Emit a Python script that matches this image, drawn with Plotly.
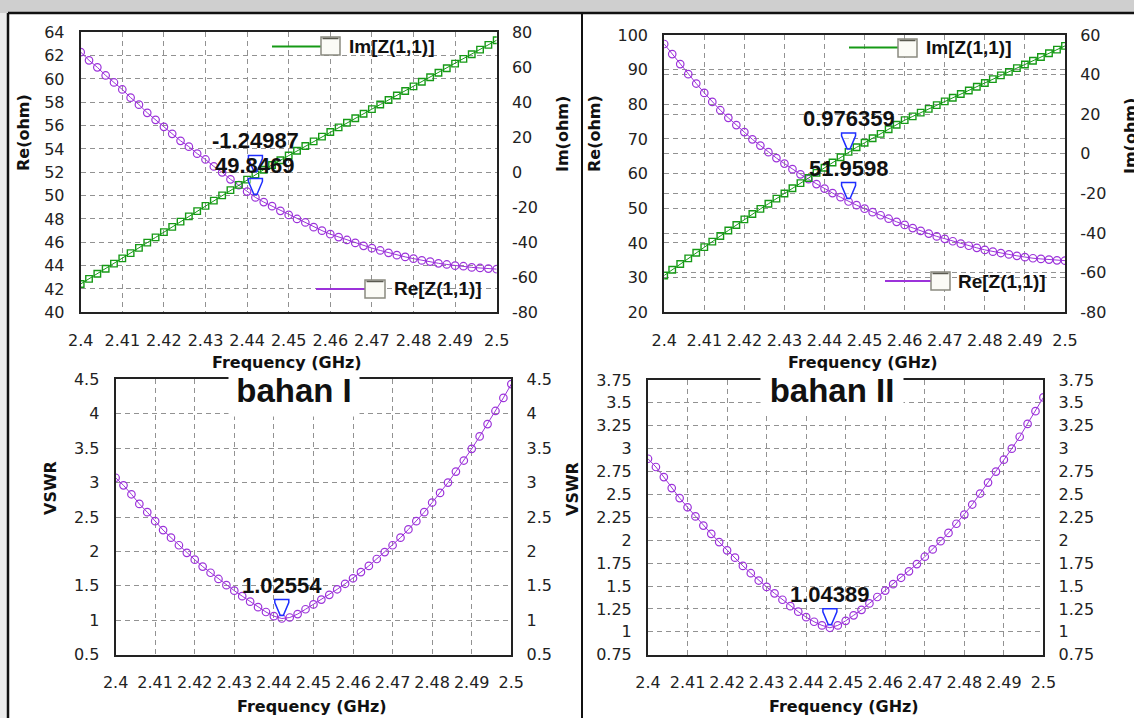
import plotly.graph_objects as go

# ---------------- data ----------------
freq = [2.400, 2.402, 2.404, 2.406, 2.408, 2.410, 2.412, 2.414, 2.416, 2.418,
        2.420, 2.422, 2.424, 2.426, 2.428, 2.430, 2.432, 2.434, 2.436, 2.438,
        2.440, 2.442, 2.444, 2.446, 2.448, 2.450, 2.452, 2.454, 2.456, 2.458,
        2.460, 2.462, 2.464, 2.466, 2.468, 2.470, 2.472, 2.474, 2.476, 2.478,
        2.480, 2.482, 2.484, 2.486, 2.488, 2.490, 2.492, 2.494, 2.496, 2.498,
        2.500]

# bahan I
re_1 = [62.3, 61.6, 61.0, 60.3, 59.7, 59.1, 58.4, 57.8, 57.1, 56.5,
        55.9, 55.3, 54.7, 54.2, 53.6, 53.1, 52.5, 52.0, 51.4, 50.9,
        50.35, 49.8469, 49.45, 49.1, 48.7, 48.35, 48.0, 47.7, 47.3, 47.0,
        46.7, 46.45, 46.2, 45.95, 45.7, 45.5, 45.3, 45.1, 44.9, 44.75,
        44.6, 44.45, 44.35, 44.2, 44.1, 44.0, 43.95, 43.85, 43.8, 43.75,
        43.7]
im_1 = [-63.8, -60.9, -58.0, -55.1, -52.2, -49.2, -46.2, -43.2, -40.2, -37.2,
        -34.2, -31.2, -28.2, -25.2, -22.2, -19.2, -16.2, -13.2, -10.2, -7.2,
        -4.2, -1.24987, 1.5, 4.2, 6.9, 9.6, 12.3, 15.0, 17.7, 20.4,
        23.0, 25.7, 28.3, 30.9, 33.5, 36.1, 38.7, 41.3, 43.9, 46.5,
        49.1, 51.7, 54.3, 56.9, 59.5, 62.1, 64.8, 67.5, 70.1, 72.8,
        75.5]
vswr_1 = [3.07, 2.96, 2.83, 2.69, 2.57, 2.44, 2.31, 2.20, 2.09, 1.98,
          1.88, 1.78, 1.69, 1.60, 1.51, 1.43, 1.35, 1.27, 1.19, 1.12,
          1.06, 1.02554, 1.04, 1.09, 1.16, 1.23, 1.30, 1.37, 1.45, 1.53,
          1.61, 1.70, 1.79, 1.89, 1.99, 2.09, 2.20, 2.32, 2.44, 2.57,
          2.71, 2.85, 3.00, 3.16, 3.32, 3.49, 3.67, 3.85, 4.04, 4.23,
          4.43]

# bahan II
re_2 = [97.4, 94.5, 91.6, 88.7, 86.0, 83.3, 80.7, 78.3, 76.1, 74.0,
        72.0, 69.9, 68.1, 66.2, 64.5, 62.9, 61.3, 59.8, 58.4, 57.0,
        55.7, 54.4, 53.2, 51.9598, 50.9, 49.9, 48.9, 48.0, 47.0, 46.1,
        45.2, 44.3, 43.5, 42.7, 41.9, 41.2, 40.5, 39.8, 39.2, 38.6,
        38.0, 37.5, 37.1, 36.7, 36.3, 35.9, 35.6, 35.4, 35.2, 35.0,
        34.9]
im_2 = [-61.4, -58.5, -55.6, -52.8, -49.9, -47.1, -44.3, -41.5, -38.7, -35.9,
        -33.1, -30.4, -27.8, -25.2, -22.6, -20.0, -17.4, -14.8, -12.2, -9.6,
        -7.0, -4.4, -1.7, 0.976359, 3.3, 5.6, 7.9, 10.1, 12.4, 14.7,
        17.0, 18.9, 20.8, 22.7, 24.6, 26.5, 28.3, 30.2, 32.0, 33.9,
        35.8, 37.7, 39.6, 41.4, 43.3, 45.1, 47.0, 48.9, 50.8, 52.6,
        54.5]
vswr_2 = [2.89, 2.80, 2.69, 2.57, 2.46, 2.36, 2.26, 2.16, 2.07, 1.98,
          1.89, 1.81, 1.72, 1.64, 1.56, 1.49, 1.42, 1.35, 1.28, 1.22,
          1.16, 1.11, 1.07, 1.04389, 1.07, 1.12, 1.18, 1.24, 1.31, 1.38,
          1.45, 1.52, 1.59, 1.66, 1.74, 1.82, 1.90, 1.99, 2.08, 2.18,
          2.28, 2.39, 2.51, 2.63, 2.75, 2.88, 3.00, 3.13, 3.27, 3.41,
          3.56]

marker_idx_1 = 21
marker_idx_2 = 23
label_re_1, label_im_1, label_vswr_1 = "49.8469", "-1.24987", "1.02554"
label_re_2, label_im_2, label_vswr_2 = "51.9598", "0.976359", "1.04389"

x_ticks = [2.40, 2.41, 2.42, 2.43, 2.44, 2.45, 2.46, 2.47, 2.48, 2.49, 2.50]
x_ticktext = ["2.4", "2.41", "2.42", "2.43", "2.44", "2.45", "2.46", "2.47", "2.48", "2.49", "2.5"]
re1_ticks = [40, 42, 44, 46, 48, 50, 52, 54, 56, 58, 60, 62, 64]
im1_ticks = [-80, -60, -40, -20, 0, 20, 40, 60, 80]
re2_ticks = [20, 30, 40, 50, 60, 70, 80, 90, 100]
im2_ticks = [-80, -60, -40, -20, 0, 20, 40, 60]
vs1_ticks = [0.5, 1, 1.5, 2, 2.5, 3, 3.5, 4, 4.5]
vs1_text = ["0.5", "1", "1.5", "2", "2.5", "3", "3.5", "4", "4.5"]
vs2_ticks = [0.75, 1, 1.25, 1.5, 1.75, 2, 2.25, 2.5, 2.75, 3, 3.25, 3.5, 3.75]
vs2_text = ["0.75", "1", "1.25", "1.5", "1.75", "2", "2.25", "2.5", "2.75", "3", "3.25", "3.5", "3.75"]

# ---------------- style ----------------
W, H = 1134, 718
PURPLE = "#9C33DA"
GREEN = "#169A16"
BLUE = "#1E2EFF"
GRID = "#929292"
FONT = "Liberation Sans, Arial, sans-serif"
FONT_W = "DejaVu Sans, Verdana, sans-serif"


def px(x):
    return x / W


def py(y):
    return 1 - y / H


fig = go.Figure()

# traces
fig.add_trace(go.Scatter(x=freq, y=re_1, xaxis="x", yaxis="y", mode="lines+markers",
                         line=dict(color=PURPLE, width=1),
                         marker=dict(symbol="circle-open", size=7.5, color=PURPLE, line=dict(width=1.2))))
fig.add_trace(go.Scatter(x=freq, y=im_1, xaxis="x", yaxis="y2", mode="lines+markers",
                         line=dict(color=GREEN, width=1),
                         marker=dict(symbol="square-open", size=6.5, color=GREEN, line=dict(width=1.4))))
fig.add_trace(go.Scatter(x=freq, y=re_2, xaxis="x2", yaxis="y3", mode="lines+markers",
                         line=dict(color=PURPLE, width=1),
                         marker=dict(symbol="circle-open", size=7.5, color=PURPLE, line=dict(width=1.2))))
fig.add_trace(go.Scatter(x=freq, y=im_2, xaxis="x2", yaxis="y4", mode="lines+markers",
                         line=dict(color=GREEN, width=1),
                         marker=dict(symbol="square-open", size=6.5, color=GREEN, line=dict(width=1.4))))
fig.add_trace(go.Scatter(x=freq, y=vswr_1, xaxis="x3", yaxis="y5", mode="lines+markers",
                         line=dict(color=PURPLE, width=1),
                         marker=dict(symbol="circle-open", size=7.5, color=PURPLE, line=dict(width=1.2))))
fig.add_trace(go.Scatter(x=freq, y=vswr_2, xaxis="x4", yaxis="y7", mode="lines+markers",
                         line=dict(color=PURPLE, width=1),
                         marker=dict(symbol="circle-open", size=7.5, color=PURPLE, line=dict(width=1.2))))

tickfont = dict(family=FONT_W, size=16, color="#222222")


def xax(dom, anchor):
    return dict(domain=dom, anchor=anchor, range=[2.4, 2.5], tickmode="array",
                tickvals=x_ticks, ticktext=x_ticktext, tickangle=0, automargin=False,
                showline=True, mirror=True, linecolor="#222222", linewidth=2,
                showgrid=True, gridcolor=GRID, griddash="5px,4px", gridwidth=1,
                ticks="outside", ticklen=12, tickcolor="rgba(0,0,0,0)",
                tickfont=tickfont, zeroline=False)


def yax(dom, anchor, rng, tv, tt=None, grid=True):
    d = dict(domain=dom, anchor=anchor, range=rng, tickmode="array", tickvals=tv,
             ticktext=tt if tt else [str(v) for v in tv], automargin=False,
             showline=True, mirror=True, linecolor="#222222", linewidth=2,
             showgrid=grid, gridcolor=GRID, griddash="5px,4px", gridwidth=1,
             ticks="outside", ticklen=11, tickcolor="rgba(0,0,0,0)",
             tickfont=tickfont, zeroline=False)
    return d


def yax_r(over, anchor, rng, tv, tt=None, grid=False):
    return dict(overlaying=over, side="right", anchor=anchor, range=rng, tickmode="array",
                tickvals=tv, ticktext=tt if tt else [str(v) for v in tv], automargin=False,
                showline=False, showgrid=grid, gridcolor=GRID, griddash="5px,4px", gridwidth=1,
                ticks="outside", ticklen=11, tickcolor="rgba(0,0,0,0)",
                tickfont=tickfont, zeroline=False)


TL = ([px(80.7), px(496.7)], [py(312.3), py(32.3)])
TR = ([px(664.2), px(1065)], [py(312.3), py(35)])
BL = ([px(115.6), px(511.3)], [py(654.7), py(379.3)])
BR = ([px(648), px(1043.4)], [py(654.7), py(380)])

shapes = []
annotations = []

# background pieces
shapes.append(dict(type="rect", xref="paper", yref="paper", x0=0, x1=1, y0=py(13), y1=1,
                   fillcolor="#CFCFCF", line=dict(width=0), layer="below"))
shapes.append(dict(type="rect", xref="paper", yref="paper", x0=0, x1=px(8), y0=0, y1=py(13),
                   fillcolor="#ECECEC", line=dict(width=0), layer="below"))
shapes.append(dict(type="line", xref="paper", yref="paper", x0=px(8), x1=1, y0=py(13), y1=py(13),
                   line=dict(color="#111111", width=2.5)))
shapes.append(dict(type="line", xref="paper", yref="paper", x0=px(8), x1=px(8), y0=0, y1=py(13),
                   line=dict(color="#111111", width=2.5)))
shapes.append(dict(type="line", xref="paper", yref="paper", x0=px(582), x1=px(582), y0=0, y1=py(13),
                   line=dict(color="#111111", width=2)))


def legend_item(x_line0, x_line1, y_line, box, x_text, text, color):
    shapes.append(dict(type="line", xref="paper", yref="paper", x0=px(x_line0), x1=px(x_line1),
                       y0=py(y_line), y1=py(y_line), line=dict(color=color, width=2)))
    bx0, by0, bx1, by1 = box
    shapes.append(dict(type="rect", xref="paper", yref="paper", x0=px(bx0), x1=px(bx1),
                       y0=py(by1), y1=py(by0), fillcolor="#FBFBF6", line=dict(color="#8A8A80", width=1.5)))
    shapes.append(dict(type="line", xref="paper", yref="paper", x0=px(bx0 + 1.5), x1=px(bx1 - 1.5),
                       y0=py(by0 + 1.5), y1=py(by0 + 1.5), line=dict(color="#5A5A50", width=1.5)))
    annotations.append(dict(xref="paper", yref="paper", x=px(x_text), y=py(y_line), text=text,
                            showarrow=False, xanchor="left", yanchor="middle",
                            font=dict(family=FONT, size=19, color="#111111", weight="bold")))


legend_item(272, 321, 46.5, (321, 37, 340, 55), 347, "Im[Z(1,1)]", GREEN)
legend_item(316, 365, 289, (365, 280, 385, 298), 392, "Re[Z(1,1)]", PURPLE)
legend_item(849, 898, 47.5, (898, 39, 917, 57), 924, "Im[Z(1,1)]", GREEN)
legend_item(885, 931, 281, (931, 272, 950, 290), 956, "Re[Z(1,1)]", PURPLE)

# marker triangles + value labels
tri = "M -7,19 L 7,19 L 7,16 L 1.5,3 L -1.5,3 L -7,16 Z"


def marker(xr, yr, xv, yv, label, yshift=33):
    shapes.append(dict(type="path", xref=xr, yref=yr, xsizemode="pixel", ysizemode="pixel",
                       xanchor=xv, yanchor=yv, path=tri,
                       line=dict(color=BLUE, width=1.5), fillcolor="rgba(255,255,255,0.5)"))
    annotations.append(dict(xref=xr, yref=yr, x=xv, y=yv, yshift=yshift, text=label,
                            showarrow=False, xanchor="center", yanchor="middle",
                            font=dict(family=FONT, size=22, color="#111111", weight="bold")))


marker("x", "y2", freq[marker_idx_1], im_1[marker_idx_1], label_im_1, 34)
marker("x", "y", freq[marker_idx_1], re_1[marker_idx_1], label_re_1, 32)
marker("x2", "y4", freq[marker_idx_2], im_2[marker_idx_2], label_im_2)
marker("x2", "y3", freq[marker_idx_2], re_2[marker_idx_2], label_re_2)
marker("x3", "y5", freq[marker_idx_1], vswr_1[marker_idx_1], label_vswr_1)
marker("x4", "y7", freq[marker_idx_2], vswr_2[marker_idx_2], label_vswr_2)

# axis titles
title_font = dict(family=FONT_W, size=16, color="#111111", weight="bold")


def txt(x, y, s, angle=0, font=title_font):
    annotations.append(dict(xref="paper", yref="paper", x=px(x), y=py(y), text=s, showarrow=False,
                            xanchor="center", yanchor="middle", textangle=angle, font=font))


txt(287, 362, "Frequency (GHz)")
txt(863, 362, "Frequency (GHz)")
txt(312, 706, "Frequency (GHz)")
txt(844, 706, "Frequency (GHz)")
txt(24, 133, "Re(ohm)", -90)
txt(562, 134, "Im(ohm)", -90)
txt(594, 134, "Re(ohm)", -90)
txt(1130, 136, "Im(ohm)", -90)
txt(51, 488, "VSWR", -90)
txt(572, 489, "VSWR", -90)

# panel titles on a white box that interrupts the frame
big = dict(family=FONT, size=33, color="#111111", weight="bold")


def title_box(xc, top, w, h, s):
    annotations.append(dict(xref="paper", yref="paper", x=px(xc), y=py(top), text=s,
                            showarrow=False, xanchor="center", yanchor="top",
                            width=w, height=h, valign="top", align="center",
                            bgcolor="white", borderpad=0, font=big))


title_box(294, 371, 130, 44, "bahan I")
title_box(832, 371, 142, 40, "bahan II")

fig.update_layout(
    template="none",
    width=W, height=H, autosize=False,
    margin=dict(l=0, r=0, t=0, b=0, pad=0, autoexpand=False),
    paper_bgcolor="white", plot_bgcolor="white",
    showlegend=False,
    xaxis=xax(TL[0], "y"),
    yaxis=yax(TL[1], "x", [40, 64], re1_ticks),
    yaxis2=yax_r("y", "x", [-80, 80], im1_ticks, grid=False),
    xaxis2=xax(TR[0], "y3"),
    yaxis3=yax(TR[1], "x2", [20, 100], re2_ticks),
    yaxis4=yax_r("y3", "x2", [-80, 60], im2_ticks, grid=True),
    xaxis3=xax(BL[0], "y5"),
    yaxis5=yax(BL[1], "x3", [0.5, 4.5], vs1_ticks, vs1_text),
    yaxis6=yax_r("y5", "x3", [0.5, 4.5], vs1_ticks, vs1_text),
    xaxis4=xax(BR[0], "y7"),
    yaxis7=yax(BR[1], "x4", [0.75, 3.75], vs2_ticks, vs2_text),
    yaxis8=yax_r("y7", "x4", [0.75, 3.75], vs2_ticks, vs2_text),
    shapes=shapes,
    annotations=annotations,
)

# empty traces so that the right-hand VSWR axes get drawn
fig.add_trace(go.Scatter(x=[], y=[], xaxis="x3", yaxis="y6", showlegend=False))
fig.add_trace(go.Scatter(x=[], y=[], xaxis="x4", yaxis="y8", showlegend=False))

fig.write_html(
    "out.html",
    config={"displayModeBar": False},
    post_script="document.body.style.margin='0';document.body.style.overflow='hidden';"
                "document.documentElement.style.overflow='hidden';",
)
